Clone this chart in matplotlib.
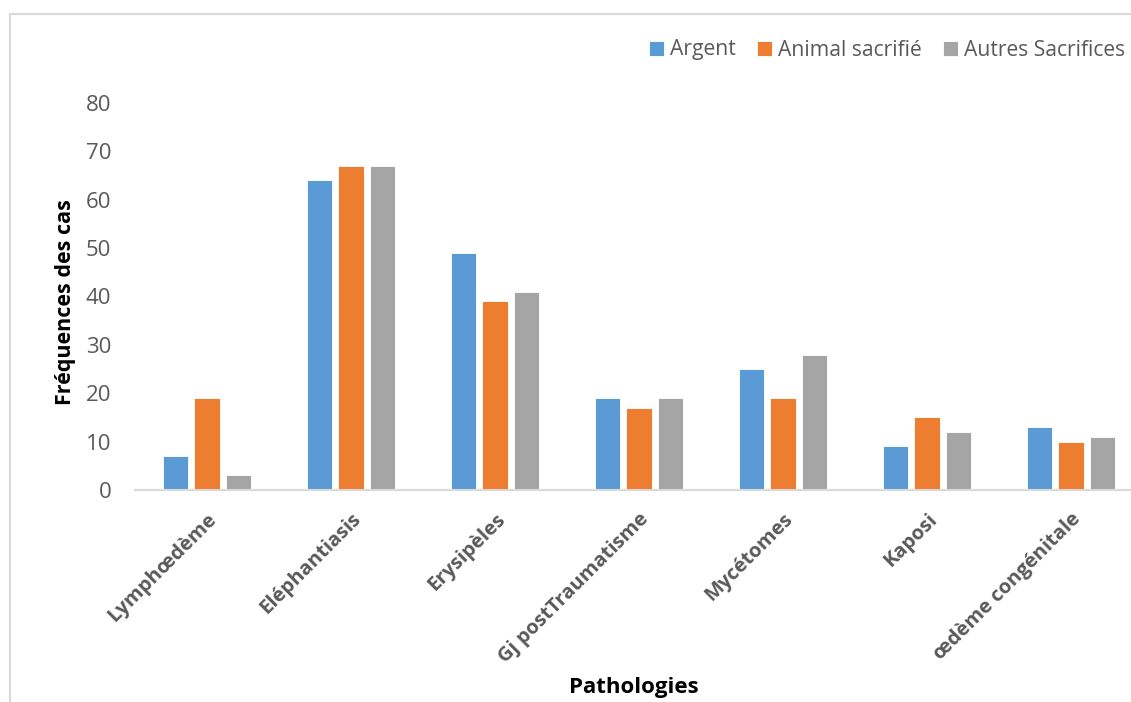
import matplotlib.pyplot as plt
import numpy as np
from matplotlib.patches import Rectangle

# data
categories = ["Lymphœdème", "Eléphantiasis", "Erysipèles", "Gj postTraumatisme",
              "Mycétomes", "Kaposi", "œdème congénitale"]
argent = [7, 64, 49, 19, 25, 9, 13]
animal = [19, 67, 39, 17, 19, 15, 10]
autres = [3, 67, 41, 19, 28, 12, 11]
series_names = ["Argent", "Animal sacrifié", "Autres Sacrifices"]
colors = ["#5b9bd5", "#ed7d31", "#a5a5a5"]

plt.rcParams['font.family'] = ['Open Sans', 'DejaVu Sans']

W, H = 1131, 702
fig = plt.figure(figsize=(W / 100, H / 100), dpi=100)

# outer chart frame
fig.patches.append(Rectangle((10 / W, -0.01), 1.2, 1 - 14 / H + 0.01, transform=fig.transFigure,
                             fill=False, edgecolor="#d9d9d9", linewidth=1.5))

ax = fig.add_axes([135 / W, 1 - 490 / H, (1143 - 135) / W, 387 / H])

x = np.arange(len(categories))
width = 0.174
step = 0.222
for i, (vals, name, c) in enumerate(zip([argent, animal, autres], series_names, colors)):
    ax.bar(x + (i - 1) * step, vals, width, color=c, label=name,
           edgecolor="white", linewidth=0.6)

ax.set_xlim(-0.5, len(categories) - 0.5)
ax.set_ylim(0, 80)
ax.set_yticks(range(0, 81, 10))
ax.tick_params(axis='y', length=0, labelsize=16, labelcolor="#595959", pad=17)
ax.tick_params(axis='x', length=0, pad=14)
ax.set_xticks(x)
ax.set_xticklabels(categories, rotation=45, ha='right', va='top', rotation_mode='anchor',
                   fontsize=14.5, fontweight='bold', color="#595959")

for s in ["top", "right", "left"]:
    ax.spines[s].set_visible(False)
ax.spines["bottom"].set_color("#d9d9d9")
ax.spines["bottom"].set_linewidth(1.5)

fig.text(65 / W, 1 - 302 / H, "Fréquences des cas", rotation=90, ha='center', va='center',
         fontsize=15.5, fontweight='bold', color="black")
fig.text(634 / W, 1 - 688 / H, "Pathologies", ha='center', va='center',
         fontsize=16, fontweight='bold', color="black")

fig.legend(loc='center right', bbox_to_anchor=(1134 / W, 1 - 50 / H), ncol=3, frameon=False,
           fontsize=15.2, handlelength=0.7, handleheight=0.7, handletextpad=0.3,
           columnspacing=1.0, labelcolor="#595959", borderaxespad=0)

fig.savefig("out.png", dpi=100)
